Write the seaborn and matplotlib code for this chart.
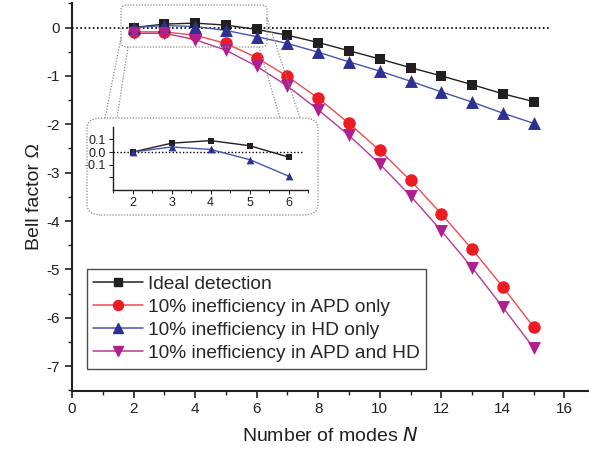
import numpy as np
import pandas as pd
import matplotlib
matplotlib.use("Agg")
import matplotlib.pyplot as plt
from matplotlib.patches import FancyBboxPatch
from matplotlib.lines import Line2D
from matplotlib.ticker import MultipleLocator
import seaborn as sns

# ---------------- data ----------------
modes = [2, 3, 4, 5, 6, 7, 8, 9, 10, 11, 12, 13, 14, 15]
ideal = [0.00, 0.07, 0.09, 0.05, -0.04, -0.16, -0.31, -0.48, -0.65, -0.83, -1.00, -1.18, -1.37, -1.53]
apd_only = [-0.09, -0.09, -0.16, -0.33, -0.62, -1.01, -1.46, -1.98, -2.54, -3.16, -3.85, -4.58, -5.36, -6.19]
hd_only = [0.00, 0.04, 0.02, -0.06, -0.19, -0.33, -0.51, -0.71, -0.90, -1.11, -1.33, -1.54, -1.77, -1.98]
apd_hd = [-0.12, -0.12, -0.25, -0.47, -0.80, -1.21, -1.70, -2.23, -2.82, -3.48, -4.20, -4.96, -5.78, -6.62]

series_names = ["Ideal detection", "10% inefficiency in APD only",
                "10% inefficiency in HD only", "10% inefficiency in APD and HD"]
series_values = [ideal, apd_only, hd_only, apd_hd]

inset_modes = [2, 3, 4, 5, 6]
inset_names = ["Ideal detection", "10% inefficiency in HD only"]

x_ticks = [0, 2, 4, 6, 8, 10, 12, 14, 16]
y_ticks = [0, -1, -2, -3, -4, -5, -6, -7]

# --------------- styles ---------------
colors = {series_names[0]: "#231f20", series_names[1]: "#ed1c24",
          series_names[2]: "#2e3192", series_names[3]: "#b01f8f"}
line_colors = {series_names[0]: "#231f20", series_names[1]: "#f04a50",
               series_names[2]: "#4656b0", series_names[3]: "#b53a98"}
markers = {series_names[0]: "s", series_names[1]: "o",
           series_names[2]: "^", series_names[3]: "v"}
msizes = {series_names[0]: 7.3, series_names[1]: 9.0,
          series_names[2]: 9.3, series_names[3]: 9.3}

df = pd.DataFrame({
    "N": np.tile(modes, len(series_names)),
    "Omega": np.concatenate(series_values),
    "series": np.repeat(series_names, len(modes)),
})

sns.set_style("white")
plt.rcParams['font.family'] = ['Liberation Sans', 'DejaVu Sans']
plt.rcParams['axes.unicode_minus'] = False

W, H = 589, 455
fig = plt.figure(figsize=(W / 100, H / 100), dpi=100)


def fx(px):
    return px / W


def fy(py):
    return 1 - py / H


ax_l, ax_r, ax_t, ax_b = 72, 589, 3.3, 390.5
ax = fig.add_axes([fx(ax_l), fy(ax_b), fx(ax_r - ax_l), (ax_b - ax_t) / H])

for name in series_names:
    sub = df[df["series"] == name]
    sns.lineplot(data=sub, x="N", y="Omega", ax=ax, color=line_colors[name],
                 linewidth=1.0, legend=False)
    sns.scatterplot(data=sub, x="N", y="Omega", ax=ax, color=colors[name],
                    marker=markers[name], s=msizes[name] ** 2, linewidth=0,
                    legend=False, zorder=3)

ax.hlines(0, 0, 15.5, colors="black", linestyles=(0, (1, 1.5)), linewidth=1.2, zorder=1)

ax.set_xlim(0, 16.8)
ax.set_ylim(-7.5, 0.5)
ax.set_xticks(x_ticks)
ax.set_yticks(y_ticks)
ax.xaxis.set_minor_locator(MultipleLocator(1))
ax.yaxis.set_minor_locator(MultipleLocator(0.5))
for s in ["top", "right"]:
    ax.spines[s].set_visible(False)
for s in ["left", "bottom"]:
    ax.spines[s].set_color("#231f20")
    ax.spines[s].set_linewidth(1.5)
ax.tick_params(axis="both", which="major", direction="out", length=5, width=1.2,
               labelsize=11, colors="#231f20", bottom=True, left=True)
ax.tick_params(axis="both", which="minor", direction="out", length=3, width=1.0,
               bottom=True, left=True)
ax.set_xlabel("Number of modes $\\it{N}$", fontsize=14, color="#231f20", labelpad=8)
ax.set_ylabel("Bell factor Ω", fontsize=14, color="#231f20", labelpad=3)

handles = [Line2D([0], [0], color=line_colors[n], marker=markers[n],
                  markerfacecolor=colors[n], markeredgecolor=colors[n],
                  markersize=msizes[n] * 0.8, linewidth=1.1) for n in series_names]
leg = ax.legend(handles, series_names, loc="upper left",
                bbox_to_anchor=((86.7 - ax_l) / (ax_r - ax_l), (ax_b - 268.5) / (ax_b - ax_t)),
                borderaxespad=0, fontsize=13.8, frameon=True, fancybox=False,
                handlelength=2.6, handletextpad=0.25, labelspacing=0.3,
                borderpad=0.35)
leg.get_frame().set_edgecolor("#231f20")
leg.get_frame().set_linewidth(1.0)

# ---------------- inset ----------------
in_l, in_r, in_t, in_b = 113.3, 308, 126.7, 190
axin = fig.add_axes([fx(in_l), fy(in_b), fx(in_r - in_l), (in_b - in_t) / H])
for name in inset_names:
    sub = df[(df["series"] == name) & (df["N"].isin(inset_modes))]
    sns.lineplot(data=sub, x="N", y="Omega", ax=axin, color=line_colors[name],
                 linewidth=1.0, legend=False)
    sns.scatterplot(data=sub, x="N", y="Omega", ax=axin, color=colors[name],
                    marker=markers[name], s=(msizes[name] * 0.6) ** 2, linewidth=0,
                    legend=False, zorder=3)
axin.hlines(0, 1.5, 6.4, colors="black", linestyles=(0, (1, 1.5)), linewidth=1.0, zorder=1)
axin.set_xlim(1.5, 6.5)
axin.set_ylim(-0.3, 0.2)
axin.set_xticks([2, 3, 4, 5, 6])
axin.set_yticks([0.1, 0.0, -0.1, -0.2])
axin.set_yticklabels(["0.1", "0.0", "-0.1", ""])
axin.xaxis.set_minor_locator(MultipleLocator(0.5))
axin.patch.set_alpha(0)
for s in ["top", "right"]:
    axin.spines[s].set_visible(False)
for s in ["left", "bottom"]:
    axin.spines[s].set_color("#231f20")
    axin.spines[s].set_linewidth(1.0)
axin.tick_params(axis="both", which="major", direction="out", length=3, width=0.8,
                 labelsize=9, colors="#231f20", pad=2, bottom=True, left=True)
axin.tick_params(axis="x", which="minor", direction="out", length=2, width=0.7, bottom=True)
axin.set_xlabel("")
axin.set_ylabel("")

# ---------------- zoom decorations ----------------
gray = "#8a8a8a"


def px_box(x0, y0, x1, y1, r):
    return FancyBboxPatch((fx(x0), fy(y1)), fx(x1 - x0), (y1 - y0) / H,
                          boxstyle=f"round,pad=0,rounding_size={r / W}",
                          transform=fig.transFigure, fill=False, edgecolor=gray,
                          linestyle=(0, (1, 1.3)), linewidth=0.9, zorder=5)


fig.patches.append(px_box(121, 5, 267, 47, 6))
fig.patches.append(px_box(87, 118, 318, 215, 14))
for (x0, y0, x1, y1) in [(121, 38, 105, 118), (128, 47, 117, 118),
                         (259, 47, 280, 118), (267, 18, 300, 118)]:
    fig.lines.append(Line2D([fx(x0), fx(x1)], [fy(y0), fy(y1)], transform=fig.transFigure,
                            color=gray, linestyle=(0, (1, 1.3)), linewidth=0.9))

fig.savefig("out.png", dpi=100)
